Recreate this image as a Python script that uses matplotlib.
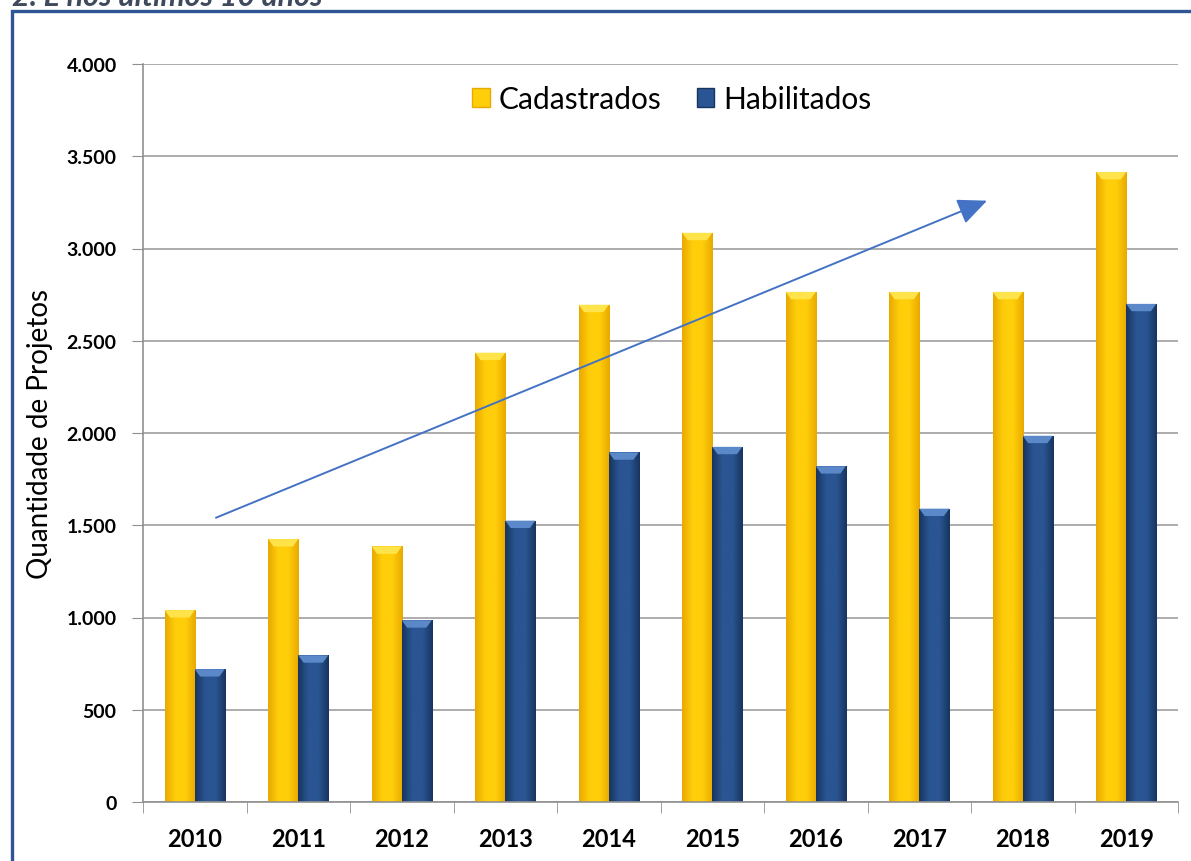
import matplotlib
matplotlib.use("Agg")
import matplotlib.pyplot as plt
import numpy as np
from matplotlib.patches import Rectangle, Polygon, FancyArrowPatch, Patch
from matplotlib.colors import LinearSegmentedColormap

plt.rcParams["font.family"] = ["Lato", "DejaVu Sans"]

# dados
anos = ["2010", "2011", "2012", "2013", "2014", "2015", "2016", "2017", "2018", "2019"]
cadastrados = [1040, 1425, 1385, 2435, 2695, 3085, 2765, 2765, 2765, 3415]
habilitados = [720, 795, 985, 1525, 1895, 1925, 1820, 1590, 1985, 2700]
y_ticks = [0, 500, 1000, 1500, 2000, 2500, 3000, 3500, 4000]
y_labels = ["0", "500", "1.000", "1.500", "2.000", "2.500", "3.000", "3.500", "4.000"]
seta_inicio = (0.18, 1535)
seta_fim = (7.68, 3265)

AMARELO = ("#E9A900", "#FFCE0A", "#FFE34A")
AZUL = ("#17355F", "#2A5592", "#5A88C8")


def bar_gradiente(ax, bars, cores):
    """Preenche cada barra com gradiente horizontal e um chanfro no topo."""
    escuro, meio, claro = cores
    cmap = LinearSegmentedColormap.from_list("g", [escuro, meio, meio, escuro])
    grad = np.linspace(0, 1, 64).reshape(1, -1)
    for b in bars:
        x0, y0 = b.get_x(), b.get_y()
        w, h = b.get_width(), b.get_height()
        b.set_facecolor("none")
        b.set_edgecolor("none")
        im = ax.imshow(grad, extent=(x0, x0 + w, y0, y0 + h), aspect="auto",
                       cmap=cmap, zorder=2, origin="lower")
        im.set_clip_path(b)
        dy = 40
        ax.add_patch(Polygon([(x0, y0 + h), (x0 + w, y0 + h),
                              (x0 + w * 0.82, y0 + h - dy), (x0 + w * 0.18, y0 + h - dy)],
                             closed=True, facecolor=claro, edgecolor="none", zorder=3))


fig = plt.figure(figsize=(11.91, 8.62), dpi=100)
ax = fig.add_axes([143 / 1191, 59 / 862, 1035 / 1191, 738 / 862])

x = np.arange(len(anos))
w = 0.29
b1 = ax.bar(x - w / 2, cadastrados, w, color=AMARELO[1], zorder=2)
b2 = ax.bar(x + w / 2, habilitados, w, color=AZUL[1], zorder=2)
bar_gradiente(ax, b1, AMARELO)
bar_gradiente(ax, b2, AZUL)

ax.set_xlim(-0.5, len(anos) - 0.5)
ax.set_ylim(0, 4000)
ax.set_yticks(y_ticks)
ax.set_yticklabels(y_labels, fontsize=14, fontweight="bold")
ax.set_xticks(x)
ax.set_xticklabels(anos, fontsize=17, fontweight="bold")
ax.set_xticks(np.arange(-0.5, len(anos)), minor=True)
ax.tick_params(axis="x", which="major", length=0, pad=18)
ax.tick_params(axis="x", which="minor", length=8, color="#909090", direction="out")
ax.tick_params(axis="y", length=8, color="#909090", pad=11)
ax.yaxis.grid(True, color="#A6A6A6", linewidth=1.3)
ax.set_axisbelow(True)
for s in ["top", "right"]:
    ax.spines[s].set_visible(False)
for s in ["left", "bottom"]:
    ax.spines[s].set_color("#909090")
    ax.spines[s].set_linewidth(1.2)

ax.set_ylabel("Quantidade de Projetos", fontsize=20)
ax.yaxis.set_label_coords(-0.087, 0.5)

handles = [Patch(facecolor=AMARELO[1], edgecolor=AMARELO[0], label="Cadastrados"),
           Patch(facecolor=AZUL[1], edgecolor=AZUL[0], label="Habilitados")]
ax.legend(handles=handles, loc="center", bbox_to_anchor=(0.511, 0.9526), ncol=2,
          frameon=False, fontsize=21.5, handlelength=0.58, handleheight=0.58,
          handletextpad=0.3, columnspacing=1.2)

ax.add_patch(FancyArrowPatch(seta_inicio, seta_fim,
                             arrowstyle="-|>,head_length=0.9,head_width=0.4",
                             mutation_scale=20, color="#4472C4", lw=1.4, zorder=5))

# moldura azul e título cortado no topo
fig.patches.append(Rectangle((12 / 1191, -0.1), 1.2, 1 - 12 / 862 + 0.1,
                             transform=fig.transFigure, fill=False,
                             edgecolor="#2F5597", linewidth=2.4))
fig.text(12 / 1191, 1 - 6 / 862, "2. E nos últimos 10 anos", fontsize=22,
         fontweight="bold", fontstyle="italic", color="#3F4A5C", va="baseline")

fig.savefig("out.png", dpi=100)
